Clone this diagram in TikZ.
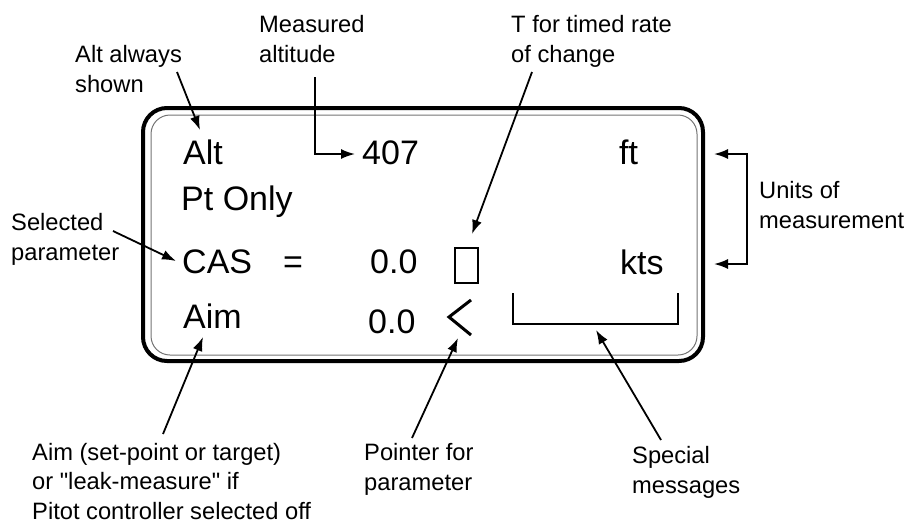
\documentclass[tikz,border=0pt]{standalone}
\usepackage{fontspec}
\setmainfont{Liberation Sans}[Ligatures=TeXOff]
\usetikzlibrary{arrows.meta}
\tikzset{
  lbl/.style={inner sep=0pt, anchor=base west, align=left, font=\fontsize{23.7}{29.5}\selectfont},
  disp/.style={inner sep=0pt, anchor=base west, font=\fontsize{34}{40}\selectfont},
  callout/.style={line width=1.8pt, -{Latex[length=14pt,width=10pt]}},
  twoway/.style={line width=1.8pt, {Latex[length=14pt,width=10pt]}-{Latex[length=14pt,width=10pt]}},
  outerframe/.style={line width=4pt, rounded corners=24pt},
  innerframe/.style={line width=1pt, draw=black!55, rounded corners=19pt},
  thinmark/.style={line width=1.5pt},
}
\begin{document}
\begin{tikzpicture}[x=1pt,y=-1pt]
\useasboundingbox (0,0) rectangle (907,523);
% display frame
\draw[outerframe] (143,108) rectangle (703,361);
\draw[innerframe] (151,115) rectangle (697,355);
% display texts
\node[disp] (alt) at (183,164) {Alt};
\node[disp] (ptonly) at (181,210) {Pt Only};
\node[disp] (cas) at (182,273) {CAS};
\node[disp] (eq) at (283,273) {=};
\node[disp] (casval) at (370,273) {0.0};
\node[disp] (aim) at (183,328) {Aim};
\node[disp] (aimval) at (368,333) {0.0};
\node[disp] (alt407) at (362,164) {407};
\node[disp] (ft) at (619,164) {ft};
\node[disp] (kts) at (620,274) {kts};
% marks
\draw[thinmark] (455,248) rectangle (478,283);
\draw[line width=3pt] (471,300) -- (449,317) -- (471,335);
\draw[thinmark] (513,293) -- (513,324) -- (678,324) -- (678,293);
% labels (anchor = baseline of last line)
\node[lbl] (lalt) at (75,92) {Alt always\\shown};
\node[lbl] (lmeas) at (259,62) {Measured\\altitude};
\node[lbl] (ltimed) at (511,62) {T for timed rate\\of change};
\node[lbl] (lsel) at (11,260) {Selected\\parameter};
\node[lbl] (lunits) at (759,228) {Units of\\measurement};
\node[lbl] (laim) at (32,519) {Aim (set-point or target)\\or "leak-measure" if\\Pitot controller selected off};
\node[lbl] (lptr) at (364,490) {Pointer for\\parameter};
\node[lbl] (lspec) at (632,493) {Special\\messages};
% connector ends
\coordinate (a1s) at (177,72);  \coordinate (a1e) at (200,130);
\coordinate (a2s) at (315,77);  \coordinate (a2e) at (355,154);
\coordinate (a3s) at (532,72);  \coordinate (a3e) at (472,234);
\coordinate (a4s) at (113,231); \coordinate (a4e) at (176,261);
\coordinate (u1) at (714,154);  \coordinate (u2) at (747,154);
\coordinate (u3) at (747,264);  \coordinate (u4) at (714,264);
\coordinate (a6s) at (163,434); \coordinate (a6e) at (203,337);
\coordinate (a7s) at (412,438); \coordinate (a7e) at (458,338);
\coordinate (a8s) at (661,440); \coordinate (a8e) at (596,330);
% connectors
\draw[callout] (a1s) -- (a1e);
\draw[callout] (a2s) |- (a2e);
\draw[callout] (a3s) -- (a3e);
\draw[callout] (a4s) -- (a4e);
\draw[twoway] (u1) -- (u2) -- (u3) -- (u4);
\draw[callout] (a6s) -- (a6e);
\draw[callout] (a7s) -- (a7e);
\draw[callout] (a8s) -- (a8e);
\end{tikzpicture}
\end{document}
